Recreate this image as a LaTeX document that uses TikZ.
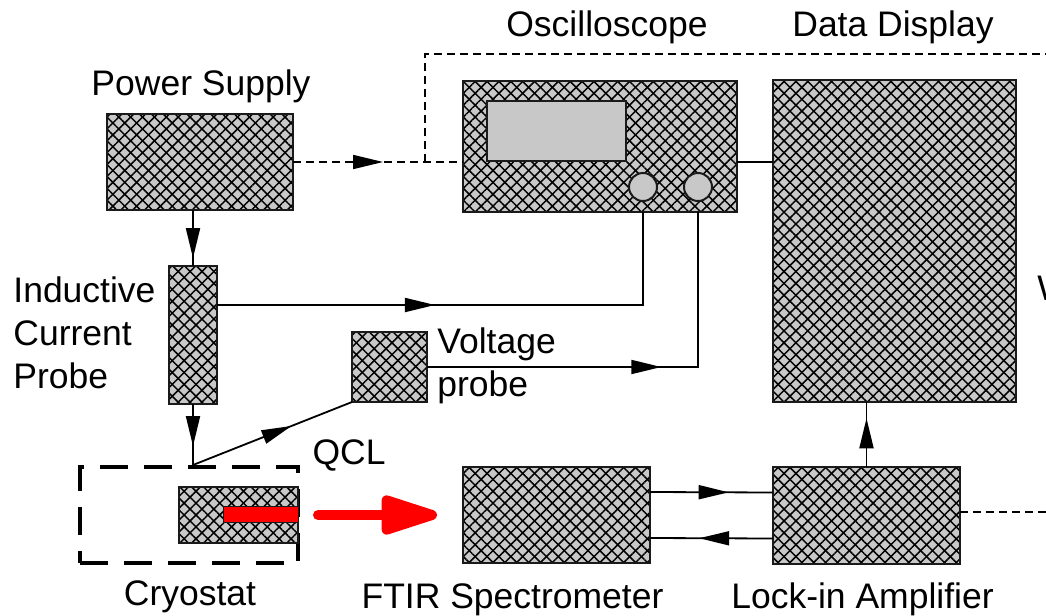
\documentclass[tikz,border=0pt]{standalone}
\usepackage{fontspec}
\setmainfont{Liberation Sans}
\usetikzlibrary{calc,arrows.meta,patterns.meta,decorations.markings}
\definecolor{hatchgray}{HTML}{C8C8C8}
\definecolor{edge}{HTML}{1A1A1A}
\definecolor{beam}{HTML}{FF0000}

\tikzset{
  hatched/.style={draw=edge,line width=1pt,inner sep=0pt,outer sep=0pt,
    preaction={fill=hatchgray},
    preaction={pattern={Lines[angle=45,distance=4.2pt,line width=0.75pt]}},
    preaction={pattern={Lines[angle=-45,distance=4.2pt,line width=0.75pt]}}},
  plain/.style={draw=edge,line width=1pt,fill=hatchgray,inner sep=0pt,outer sep=0pt},
  wire/.style={line width=0.9pt},
  signal/.style={line width=0.8pt,dash pattern=on 4pt off 2.5pt},
  midarr/.style={postaction={decorate},decoration={markings,
    mark=at position #1 with {\arrow{Triangle[length=15pt,width=7pt]}}}},
  lbl/.style={font=\fontsize{17.75}{21.5}\selectfont,inner sep=0pt},
}

\begin{document}
\begin{tikzpicture}[x=0.5pt,y=-0.5pt]
\useasboundingbox (0,0) rectangle (1046,616);
% instruments
\node[hatched,minimum width=93pt,minimum height=48pt] (ps) at (200,162) {};
\node[hatched,minimum width=24pt,minimum height=69pt] (icp) at (193,335) {};
\node[hatched,minimum width=137pt,minimum height=65.5pt] (osc) at (600,146.5) {};
\node[plain,minimum width=69.5pt,minimum height=30pt] (screen) at (556.5,131) {};
\node[plain,circle,minimum size=14pt] (knobA) at (643,187) {};
\node[plain,circle,minimum size=14pt] (knobB) at (698,187) {};
\node[hatched,minimum width=121.5pt,minimum height=161pt] (disp) at (894.5,241) {};
\node[hatched,minimum width=37.5pt,minimum height=35pt] (vp) at (389.5,367) {};
\node[draw,line width=2pt,dash pattern=on 14pt off 8pt,minimum width=109pt,
  minimum height=48pt,inner sep=0pt] (cryo) at (189,515) {};
\node[hatched,minimum width=59.5pt,minimum height=28pt] (qcl) at (238.5,515) {};
\node[fill=beam,draw=edge,line width=0.5pt,minimum width=37.5pt,minimum height=8pt,
  inner sep=0pt] (bar) at (260.5,514) {};
\node[hatched,minimum width=93.5pt,minimum height=48pt] (ftir) at (556.5,515) {};
\node[hatched,minimum width=93.5pt,minimum height=48.5pt] (lia) at (866.5,515.5) {};

% labels
\node[lbl,anchor=base] (psL) at (201,95) {Power Supply};
\node[lbl,anchor=base] (oscL) at (607,36) {Oscilloscope};
\node[lbl,anchor=base] (dispL) at (893,36) {Data Display};
\node[lbl,anchor=north west,align=left] (icpL) at (13,276) {Inductive\\Current\\Probe};
\node[lbl,anchor=north west,align=left] (vpL) at (437,327) {Voltage\\probe};
\node[lbl,anchor=base] (qclL) at (349,464) {QCL};
\node[lbl,anchor=base] (cryoL) at (190,605) {Cryostat};
\node[lbl,anchor=base] (ftirL) at (512.5,608) {FTIR Spectrometer};
\node[lbl,anchor=base] (liaL) at (862.5,608) {Lock-in Amplifier};
\node[lbl,anchor=base west] (wL) at (1037,300) {W};

% connections
\coordinate (junc) at (425,162);
\coordinate (outA) at (1046,54);
\coordinate (outB) at (1046,512);
\coordinate (tap) at (icp.south |- cryo.north);

\draw[wire,midarr=0.86] (icp.north |- ps.south) -- (icp.north);
\draw[signal,midarr=0.53] (ps.east) -- (osc.west |- ps.east);
\draw[signal] (junc) -- (junc |- outA) -- (outA);
\draw[wire] (osc.east |- junc) -- (disp.west |- junc);
\draw[wire,midarr=0.42] ([yshift=15pt]icp.east) -| (knobA |- osc.south);
\draw[wire,midarr=0.55] (vp.east) -| (knobB |- osc.south);
\draw[wire,midarr=0.69] (icp.south) -- (tap);
\draw[wire,midarr=0.62] (tap) -- (vp.south west);
\draw[wire,midarr=0.64] ([yshift=11.5pt]ftir.east) -- ([yshift=11.5pt]lia.west);
\draw[wire,midarr=0.6] ([yshift=-11.5pt]lia.west) -- ([yshift=-11.5pt]ftir.east);
\draw[wire,midarr=0.75] (lia.north) -- (lia.north |- disp.south);
\draw[signal] (lia.east |- outB) -- (outB);
\draw[beam,line width=5pt,line cap=round,shorten <=10pt,shorten >=13pt,
  -{Triangle[length=34pt,width=20pt,round]}] (qcl.east) -- (ftir.west);
\end{tikzpicture}
\end{document}
